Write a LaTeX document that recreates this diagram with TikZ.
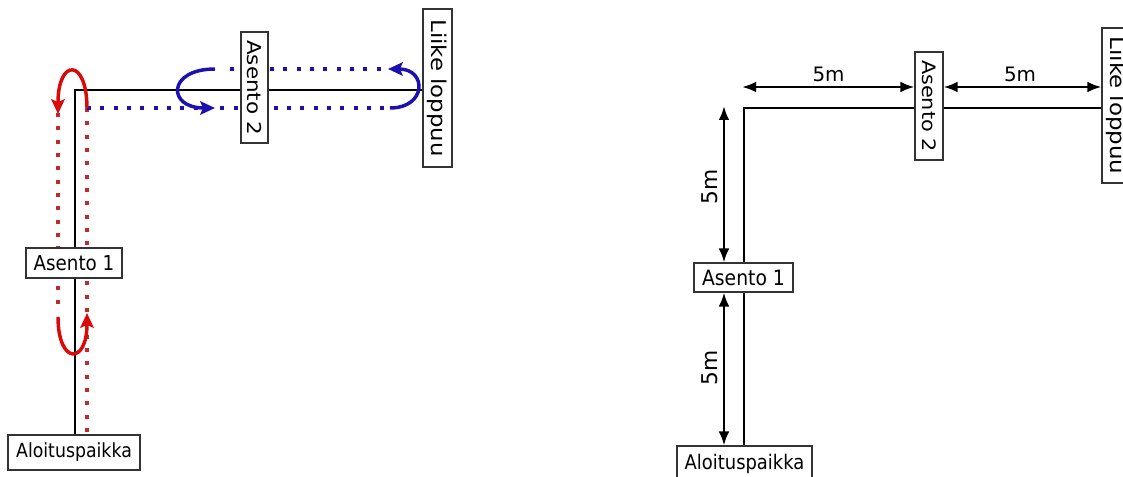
\documentclass[tikz,border=0pt]{standalone}
\usepackage{fontspec}
\setmainfont{DejaVu Sans}
\usetikzlibrary{arrows.meta}
\pgfdeclarelayer{bg}
\pgfsetlayers{bg,main}
\newcommand\pxfont[1]{\fontsize{#1}{#1}\selectfont}
\newcommand\hsq[1]{\scalebox{0.89}[1]{#1}}
\newcommand\vsq[1]{\scalebox{1}[0.89]{#1}}
\definecolor{arcred}{HTML}{D80A0A}
\definecolor{dotred}{HTML}{C02A2A}
\definecolor{myblue}{HTML}{1C10B0}
\definecolor{boxgray}{HTML}{333333}
\begin{document}
\begin{tikzpicture}[x=0.75pt,y=-0.75pt,
  box/.style={draw=boxgray, fill=white, line width=0.8pt, inner sep=0pt},
  track/.style={draw=black, line width=1.8pt},
  reddots/.style={draw=dotred, line width=2.9pt, dash pattern=on 3pt off 7pt},
  bluedots/.style={draw=myblue, line width=2.9pt, dash pattern=on 3pt off 7pt},
  redarc/.style={draw=arcred, line width=2.6pt, -{Stealth[length=11pt,width=10pt,inset=2pt]}},
  bluearc/.style={draw=myblue, line width=2.6pt, -{Stealth[length=11pt,width=10pt,inset=2pt]}},
  dim/.style={draw=black, line width=1.8pt, {Latex[length=10.5pt,width=8pt]}-{Latex[length=10.5pt,width=8pt]}},
  dimlbl/.style={inner sep=0pt}]
\useasboundingbox (0,0) rectangle (1123,477);

% ---------- left panel ----------
\node[box, minimum width=99pt, minimum height=26.25pt, font=\pxfont{14.6pt}] (aloL) at (74,452.5) {\hsq{Aloituspaikka}};
\node[box, minimum width=72pt, minimum height=22.5pt, font=\pxfont{15.4pt}] (a1L) at (74,263) {\hsq{Asento 1}};
\node[box, rotate=-90, minimum width=83.25pt, minimum height=20.25pt, font=\pxfont{16.1pt}] (a2L) at (254.5,87.5) {\vsq{Asento 2}};
\node[box, rotate=-90, minimum width=118.5pt, minimum height=21.75pt, font=\pxfont{17.1pt}] (liikeL) at (437.5,88) {\vsq{Liike loppuu}};

\coordinate (cL) at (75,90);
\coordinate (rTop) at (87,108);
\coordinate (lTop) at (58,113);
\coordinate (lBot) at (58,310);
\coordinate (bEnd) at (390,108);
\coordinate (tStart) at (230,69);
\coordinate (tEnd) at (390,69);

\begin{pgfonlayer}{bg}
  \draw[track] (aloL.north -| cL) -- (cL) -- (cL -| liikeL.center);
  \draw[reddots] (rTop) -- (rTop |- aloL.north);
  \draw[reddots] (lTop) -- (lBot);
  \draw[bluedots] (rTop) -- (bEnd);
  \draw[bluedots] (tStart) -- (tEnd);
\end{pgfonlayer}

\coordinate (ra1) at (87,108);
\coordinate (ra2) at (58,114);
\draw[redarc] (ra1) .. controls (87,58) and (58,58) .. (ra2);
\coordinate (rb1) at (58,317);
\coordinate (rb2) at (87,313);
\draw[redarc] (rb1) .. controls (58,365) and (87,365) .. (rb2);
\coordinate (ba1) at (390,108);
\coordinate (ba2) at (388,69);
\draw[bluearc] (ba1) .. controls (427,108) and (427,69) .. (ba2);
\coordinate (bb1) at (215,69);
\coordinate (bb2) at (215,108);
\draw[bluearc] (bb1) .. controls (167,69) and (167,108) .. (bb2);

% ---------- right panel ----------
\node[box, minimum width=101.25pt, minimum height=26.25pt, font=\pxfont{15.1pt}] (aloR) at (744.5,463.5) {\hsq{Aloituspaikka}};
\node[box, minimum width=74.25pt, minimum height=21.75pt, font=\pxfont{15.8pt}] (a1R) at (743.5,277.5) {\hsq{Asento 1}};
\node[box, rotate=-90, minimum width=81pt, minimum height=21pt, font=\pxfont{15.6pt}] (a2R) at (929,106) {\vsq{Asento 2}};
\node[box, rotate=-90, minimum width=116.25pt, minimum height=21.75pt, font=\pxfont{17.2pt}] (liikeR) at (1116.5,105.5) {\vsq{Liike loppuu}};

\coordinate (cR) at (744,108);
\begin{pgfonlayer}{bg}
  \draw[track] (aloR.north -| cR) -- (cR) -- (cR -| liikeR.center);
\end{pgfonlayer}

\coordinate (h1) at (742,87);
\draw[dim] (h1) -- (h1 -| a2R.south);
\draw[dim] (h1 -| a2R.north) -- (h1 -| liikeR.south);
\node[dimlbl, font=\pxfont{14.9pt}] (m1) at (828.5,74) {5m};
\node[dimlbl, font=\pxfont{14.9pt}] (m2) at (1020,74) {5m};

\coordinate (v1) at (724,106);
\draw[dim] (v1) -- (v1 |- a1R.north);
\draw[dim] (v1 |- a1R.south) -- (v1 |- aloR.north);
\node[dimlbl, rotate=90, font=\pxfont{16.3pt}] (m3) at (710,187) {5m};
\node[dimlbl, rotate=90, font=\pxfont{16.3pt}] (m4) at (710,368) {5m};
\end{tikzpicture}
\end{document}
